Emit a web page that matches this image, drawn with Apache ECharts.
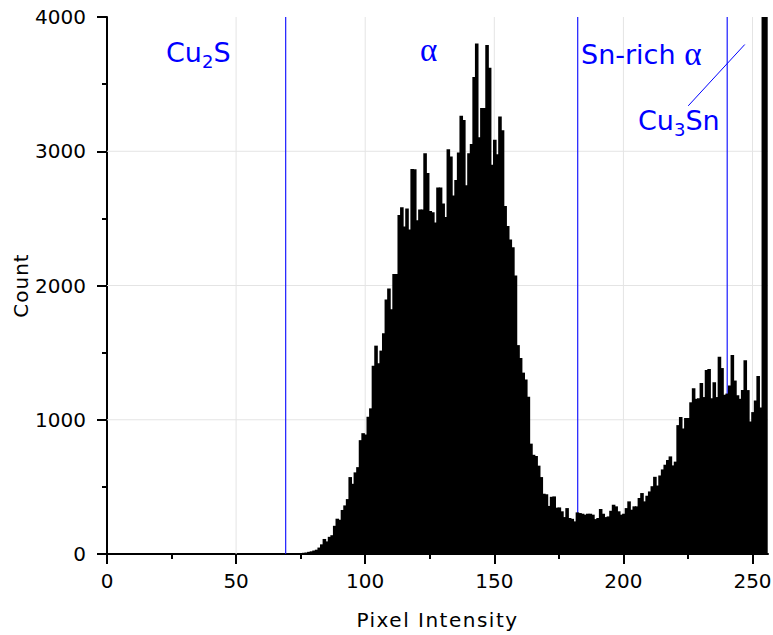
<!DOCTYPE html>
<html><head><meta charset="utf-8">
<script src="https://cdn.jsdelivr.net/npm/echarts@6/dist/echarts.min.js"></script>
<style>html,body{margin:0;padding:0;background:#fff}#c{width:773px;height:635px}</style>
</head><body><div id="c"></div>
<script>
// Histogram counts for pixel intensity bins 0..255
const counts = [
  0,0,0,0,0,0,0,0,0,0,        // 0-9
  0,0,0,0,0,0,0,0,0,0,        // 10-19
  0,0,0,0,0,0,0,0,0,0,        // 20-29
  0,0,0,0,0,0,0,0,0,0,        // 30-39
  0,0,0,0,0,0,0,0,0,0,        // 40-49
  0,0,0,0,0,0,0,0,0,0,        // 50-59
  0,0,0,0,0,0,0,0,0,1,        // 60-69
  2,2,3,4,5,7,9,11,16,20,     // 70-79
  26,32,48,72,112,94,128,140,210,263,
  255,328,362,409,573,523,608,647,848,900,
  890,1022,1085,1402,1552,1421,1515,1644,1895,1977,
  1823,2085,2085,2525,2582,2440,2574,2418,2867,2865,
  2486,2567,2567,2985,2838,2555,2545,2470,2730,2730,
  2610,2510,3015,2960,2670,2785,2990,3264,3233,2746,
  2985,3054,3553,3802,3105,3323,3323,3791,3622,2900,
  3085,2977,3259,3156,2593,2444,2342,2285,2075,1556,
  1460,1351,1300,1172,822,739,730,658,573,449,
  445,358,426,429,345,347,318,275,342,268,
  262,243,310,305,300,293,300,300,293,260,
  268,335,300,275,280,322,367,355,318,293,
  300,342,392,330,355,355,417,454,392,434,
  466,505,575,510,585,630,665,700,727,660,
  688,960,1020,935,1013,1013,1130,1234,1156,1161,
  1273,1169,1370,1378,1161,1279,1169,1469,1385,1187,
  1195,1255,1482,1292,1182,1156,1221,1443,1221,987,
  1057,1143,1326,1091,4400,9500
];
const xMajorTicks = [0, 50, 100, 150, 200, 250];
const xMinorTicks = [25, 75, 125, 175, 225];
const xGridValues = [50, 100, 150, 200, 250];
const yGridValues = [1000, 2000, 3000];
const phaseBoundaries = [69.2, 182.3, 240.2];
const connector = [[225.1, 3338], [247.0, 3795]];

const histData = counts.map((c, i) => [i, c]);
const FONT = 'DejaVu Sans';
const BLUE = '#0000ff';
const LINE_BLUE = '#1a1aff';
const GRID = '#e4e4e4';
const Y_MAX = 4000;

const chart = echarts.init(document.getElementById('c'), null, {renderer: 'svg'});
chart.setOption({
  animation: false,
  backgroundColor: '#fff',
  grid: {left: 107, right: 5, top: 17, bottom: 81, containLabel: false, outerBoundsMode: 'none'},
  xAxis: [{
    type: 'value', min: 0, max: 256, interval: 50,
    name: 'Pixel Intensity', nameLocation: 'middle', nameGap: 56, nameMoveOverlap: false,
    nameTextStyle: {fontFamily: FONT, fontSize: 20, color: '#000'},
    axisLine: {show: true, onZero: false, lineStyle: {color: '#000', width: 2}},
    axisTick: {show: true, customValues: xMajorTicks, length: 10, lineStyle: {color: '#000', width: 2}},
    axisLabel: {customValues: xMajorTicks, fontFamily: FONT, fontSize: 20, color: '#000', margin: 17},
    splitLine: {show: false}
  }, {
    type: 'value', min: 0, max: 256, position: 'bottom',
    axisLine: {show: false},
    axisTick: {show: true, customValues: xMinorTicks, length: 5, lineStyle: {color: '#000', width: 2}},
    axisLabel: {show: false},
    splitLine: {show: false}
  }],
  yAxis: {
    type: 'value', min: 0, max: Y_MAX, interval: 1000,
    name: 'Count', nameLocation: 'middle', nameGap: 76, nameMoveOverlap: false,
    nameTextStyle: {fontFamily: FONT, fontSize: 20, color: '#000'},
    axisLine: {show: true, lineStyle: {color: '#000', width: 2}},
    axisTick: {show: true, length: 10, lineStyle: {color: '#000', width: 2}},
    minorTick: {show: true, splitNumber: 2, length: 5, lineStyle: {color: '#000', width: 2}},
    axisLabel: {fontFamily: FONT, fontSize: 20, color: '#000', margin: 21,
      formatter: v => String(v)},
    splitLine: {show: false}
  },
  series: [{
    // light grey gridlines
    type: 'custom', z: 1, silent: true, clip: true,
    data: xGridValues.map(v => ['x', v]).concat(yGridValues.map(v => ['y', v])),
    encode: {x: -1, y: -1},
    renderItem: function (params, api) {
      const kind = api.value(0), v = api.value(1);
      let a, b;
      if (kind === 'x') { a = api.coord([v, 0]); b = api.coord([v, Y_MAX]); }
      else { a = api.coord([0, v]); b = api.coord([256, v]); }
      return {type: 'line', shape: {x1: a[0], y1: a[1], x2: b[0], y2: b[1]},
        style: {stroke: GRID, lineWidth: 1}};
    }
  }, {
    // blue phase boundary lines
    type: 'custom', z: 2, silent: true, clip: true,
    data: phaseBoundaries.map(v => [v]),
    encode: {x: 0},
    renderItem: function (params, api) {
      const v = api.value(0);
      const a = api.coord([v, 0]), b = api.coord([v, Y_MAX]);
      return {type: 'line', shape: {x1: a[0], y1: a[1], x2: a[0], y2: b[1]},
        style: {stroke: LINE_BLUE, lineWidth: 1.2}};
    }
  }, {
    type: 'custom', z: 3, clip: true, silent: true,
    data: histData,
    renderItem: function (params, api) {
      const x = api.value(0), y = api.value(1);
      const p0 = api.coord([x - 0.5, y]);
      const p1 = api.coord([x + 0.5, 0]);
      return {
        type: 'rect',
        shape: {x: p0[0], y: p0[1], width: p1[0] - p0[0] + 1, height: p1[1] - p0[1]},
        style: {fill: '#000'}
      };
    }
  }, {
    // connector from Cu3Sn label
    type: 'custom', z: 4, silent: true, clip: true,
    data: [[connector[0][0], connector[0][1], connector[1][0], connector[1][1]]],
    encode: {x: [0, 2], y: [1, 3]},
    renderItem: function (params, api) {
      const a = api.coord([api.value(0), api.value(1)]);
      const b = api.coord([api.value(2), api.value(3)]);
      return {type: 'line', shape: {x1: a[0], y1: a[1], x2: b[0], y2: b[1]},
        style: {stroke: BLUE, lineWidth: 1}};
    }
  }],
  graphic: [
    {type: 'text', z: 10, style: {text: '{m|Cu}{s|2}{m|S}', x: 166, y: 52, verticalAlign: 'middle',
      fill: BLUE,
      rich: {
        m: {fontFamily: FONT, fontSize: 27, color: BLUE, lineHeight: 36},
        s: {fontFamily: FONT, fontSize: 18, color: BLUE, lineHeight: 22, verticalAlign: 'bottom'}
      }}},
    {type: 'text', z: 10, style: {text: 'α', x: 420, y: 50, verticalAlign: 'middle',
      font: '33px "Liberation Serif"', fill: BLUE}},
    {type: 'text', z: 10, style: {text: '{m|Sn-rich }{a|α}', x: 581, y: 54, verticalAlign: 'middle',
      fill: BLUE,
      rich: {
        m: {fontFamily: FONT, fontSize: 27, color: BLUE, lineHeight: 36},
        a: {fontFamily: 'Liberation Serif', fontSize: 33, color: BLUE, lineHeight: 36}
      }}},
    {type: 'text', z: 10, style: {text: '{m|Cu}{s|3}{m|Sn}', x: 638, y: 120, verticalAlign: 'middle',
      fill: BLUE,
      rich: {
        m: {fontFamily: FONT, fontSize: 27, color: BLUE, lineHeight: 36},
        s: {fontFamily: FONT, fontSize: 18, color: BLUE, lineHeight: 22, verticalAlign: 'bottom'}
      }}}
  ]
});

function spaceNames() {
  const texts = document.querySelectorAll('#c text');
  texts.forEach(t => {
    const s = t.textContent;
    if (s === 'Pixel Intensity') t.setAttribute('letter-spacing', '1.5');
    if (s === 'Count') t.setAttribute('letter-spacing', '1');
  });
}
chart.on('finished', spaceNames);
setTimeout(spaceNames, 30);
setTimeout(spaceNames, 300);
</script>
</body></html>
